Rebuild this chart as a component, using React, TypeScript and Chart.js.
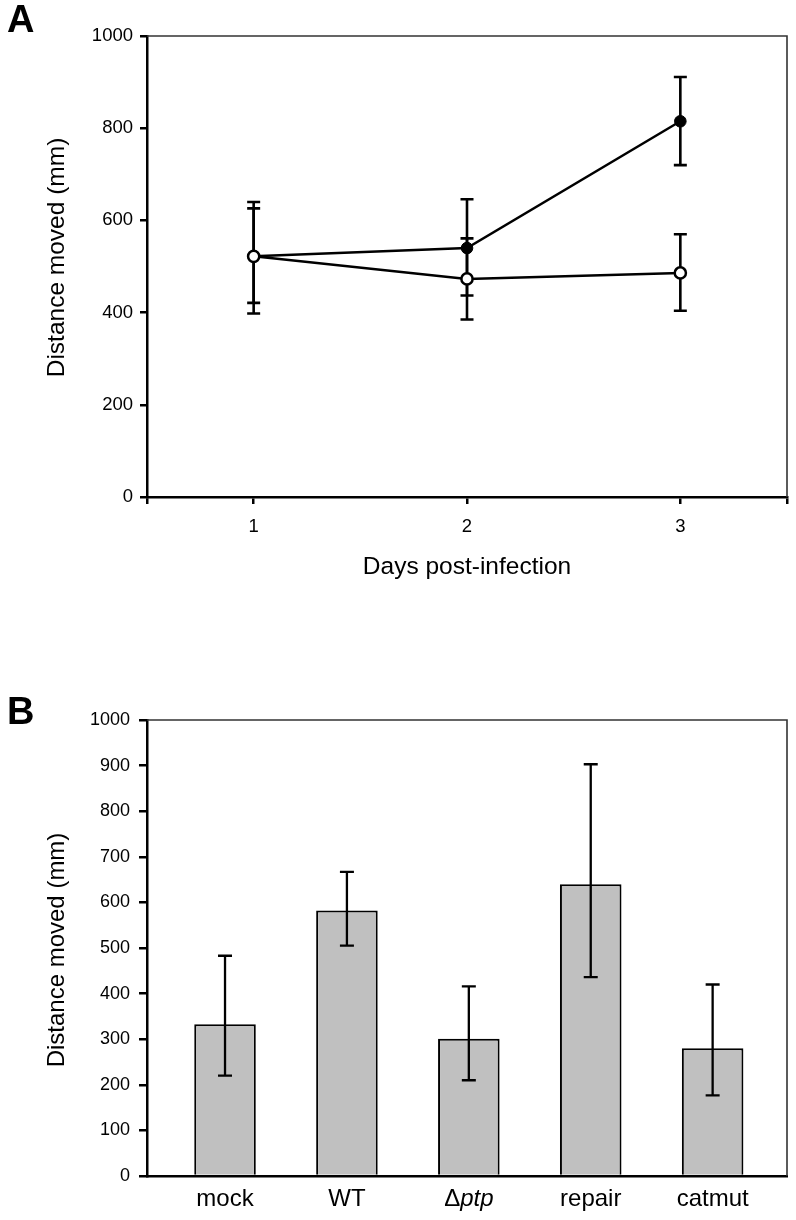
import React, { useEffect, useRef } from 'react';
import { Chart, registerables } from 'chart.js';

Chart.register(...registerables);

const FONT = '"Liberation Sans", Arial, Helvetica, sans-serif';

// ---- Panel A data ----
const DAYS = [1, 2, 3];
const DAY_TICKS = [0.5, 1, 2, 3, 3.5];
const A_Y_TICKS = [0, 200, 400, 600, 800, 1000];
const INFECTED_MEAN = [522, 540, 815];
const INFECTED_UPPER = [640, 646, 911];
const INFECTED_LOWER = [398, 437, 720];
const MOCK_MEAN = [522, 473, 486];
const MOCK_UPPER = [626, 561, 570];
const MOCK_LOWER = [421, 385, 404];

// ---- Panel B data ----
const GROUPS = ['mock', 'WT', 'Δptp', 'repair', 'catmut'];
const GROUP_MEAN = [333, 582, 301, 640, 280];
const GROUP_UPPER = [483, 667, 416, 903, 420];
const GROUP_LOWER = [220, 505, 210, 436, 177];
const B_Y_TICKS = [0, 100, 200, 300, 400, 500, 600, 700, 800, 900, 1000];

const Y_TITLE = 'Distance moved (mm)';
const X_TITLE_A = 'Days post-infection';

const framePlugin = {
  id: 'frame',
  beforeDatasetsDraw(chart: any) {
    const { ctx, chartArea } = chart;
    const { left, right, top, bottom } = chartArea;
    ctx.save();
    ctx.strokeStyle = '#333';
    ctx.lineWidth = 1.6;
    ctx.beginPath();
    ctx.moveTo(left, top);
    ctx.lineTo(right, top);
    ctx.lineTo(right, bottom);
    ctx.stroke();
    ctx.restore();
  },
};

function makeYTitle(id: string, text: string, size: number, centerX: number, shiftY: number) {
  return {
    id,
    afterDraw(chart: any) {
      const { ctx, chartArea } = chart;
      const cy = (chartArea.top + chartArea.bottom) / 2 + shiftY;
      ctx.save();
      ctx.translate(centerX, cy);
      ctx.rotate(-Math.PI / 2);
      ctx.font = `${size}px ${FONT}`;
      ctx.fillStyle = '#000';
      ctx.textAlign = 'center';
      ctx.textBaseline = 'middle';
      ctx.fillText(text, 0, 0);
      ctx.restore();
    },
  };
}

function makeErrorBars(
  id: string,
  hook: 'beforeDatasetsDraw' | 'afterDatasetsDraw',
  xs: number[],
  sets: { upper: number[]; lower: number[] }[],
  capHalf: number,
  lineWidth: number
) {
  return {
    id,
    [hook](chart: any) {
      const { ctx, scales } = chart;
      const x = scales.x;
      const y = scales.y;
      ctx.save();
      ctx.strokeStyle = '#000';
      ctx.lineWidth = lineWidth;
      ctx.lineCap = 'butt';
      sets.forEach((s) => {
        xs.forEach((xv, i) => {
          const px = x.getPixelForValue(xv);
          const pu = y.getPixelForValue(s.upper[i]);
          const pl = y.getPixelForValue(s.lower[i]);
          ctx.beginPath();
          ctx.moveTo(px, pu);
          ctx.lineTo(px, pl);
          ctx.moveTo(px - capHalf, pu);
          ctx.lineTo(px + capHalf, pu);
          ctx.moveTo(px - capHalf, pl);
          ctx.lineTo(px + capHalf, pl);
          ctx.stroke();
        });
      });
      ctx.restore();
    },
  };
}

const groupLabelsPlugin = {
  id: 'groupLabels',
  afterDraw(chart: any) {
    const { ctx, scales } = chart;
    const x = scales.x;
    const yPos = x.top + 23;
    const size = 24;
    const normal = `${size}px ${FONT}`;
    const italic = `italic ${size}px ${FONT}`;
    ctx.save();
    ctx.fillStyle = '#000';
    ctx.textBaseline = 'middle';
    GROUPS.forEach((g, i) => {
      const px = x.getPixelForValue(i);
      if (g.startsWith('Δ')) {
        const a = 'Δ';
        const b = g.slice(1);
        ctx.font = normal;
        const wa = ctx.measureText(a).width;
        ctx.font = italic;
        const wb = ctx.measureText(b).width;
        const start = px - (wa + wb) / 2;
        ctx.textAlign = 'left';
        ctx.font = normal;
        ctx.fillText(a, start, yPos);
        ctx.font = italic;
        ctx.fillText(b, start + wa, yPos);
      } else {
        ctx.font = normal;
        ctx.textAlign = 'center';
        ctx.fillText(g, px, yPos);
      }
    });
    ctx.restore();
  },
};

export default function App() {
  const refA = useRef<HTMLCanvasElement | null>(null);
  const refB = useRef<HTMLCanvasElement | null>(null);

  useEffect(() => {
    if (!refA.current || !refB.current) return;

    const axisGrid = (len: number) => ({
      drawOnChartArea: false,
      drawTicks: true,
      tickLength: len,
      color: '#000',
      lineWidth: 2.5,
      offset: false,
    });
    const axisBorder = { display: true, color: '#000', width: 2.5 };
    const plain = (v: any) => String(v);

    const chartA = new Chart(refA.current, {
      type: 'line',
      data: {
        datasets: [
          {
            label: 'Infected',
            data: DAYS.map((d, i) => ({ x: d, y: INFECTED_MEAN[i] })),
            borderColor: '#000',
            borderWidth: 2.5,
            pointRadius: 5.8,
            pointBackgroundColor: '#000',
            pointBorderColor: '#000',
            pointBorderWidth: 1,
            tension: 0,
            fill: false,
            order: 2,
          },
          {
            label: 'Mock',
            data: DAYS.map((d, i) => ({ x: d, y: MOCK_MEAN[i] })),
            borderColor: '#000',
            borderWidth: 2.5,
            pointRadius: 5.6,
            pointBackgroundColor: '#fff',
            pointBorderColor: '#000',
            pointBorderWidth: 2.5,
            tension: 0,
            fill: false,
            order: 1,
          },
        ],
      } as any,
      options: {
        responsive: false,
        animation: false,
        events: [],
        layout: { padding: { top: 36, right: 9, bottom: 0, left: 0 }, autoPadding: false } as any,
        plugins: { legend: { display: false }, tooltip: { enabled: false } },
        scales: {
          x: {
            type: 'linear',
            min: 0.5,
            max: 3.5,
            offset: false,
            afterBuildTicks: (s: any) => {
              s.ticks = DAY_TICKS.map((v) => ({ value: v }));
            },
            afterFit: (s: any) => {
              s.height = 113;
              s.paddingLeft = 0;
              s.paddingRight = 0;
            },
            grid: axisGrid(7),
            border: axisBorder,
            ticks: {
              autoSkip: false,
              maxRotation: 0,
              padding: 12,
              color: '#000',
              font: { family: FONT, size: 18.5 },
              callback: (v: any) => (Number.isInteger(v) ? String(v) : ''),
            },
            title: {
              display: true,
              text: X_TITLE_A,
              color: '#000',
              font: { family: FONT, size: 24.5 },
              padding: { top: 0, bottom: 28 },
            },
          },
          y: {
            type: 'linear',
            min: 0,
            max: 1000,
            afterBuildTicks: (s: any) => {
              s.ticks = A_Y_TICKS.map((v) => ({ value: v }));
            },
            afterFit: (s: any) => {
              s.width = 147;
            },
            grid: axisGrid(7),
            border: axisBorder,
            ticks: {
              padding: 7,
              color: '#000',
              font: { family: FONT, size: 18.5 },
              callback: plain,
            },
            title: { display: false },
          },
        },
      } as any,
      plugins: [
        framePlugin,
        makeErrorBars(
          'errA',
          'beforeDatasetsDraw',
          DAYS,
          [
            { upper: INFECTED_UPPER, lower: INFECTED_LOWER },
            { upper: MOCK_UPPER, lower: MOCK_LOWER },
          ],
          6.5,
          2.6
        ),
        makeYTitle('titleA', Y_TITLE, 24.5, 57, -9),
      ],
    });

    const chartB = new Chart(refB.current, {
      type: 'bar',
      data: {
        datasets: [
          {
            label: Y_TITLE,
            data: GROUPS.map((_, i) => ({ x: i, y: GROUP_MEAN[i] })),
            backgroundColor: '#c0c0c0',
            borderColor: '#000',
            borderWidth: 2,
            barPercentage: 0.505,
            categoryPercentage: 1,
          },
        ],
      } as any,
      options: {
        responsive: false,
        animation: false,
        events: [],
        layout: { padding: { top: 100, right: 9, bottom: 0, left: 0 }, autoPadding: false } as any,
        plugins: { legend: { display: false }, tooltip: { enabled: false } },
        scales: {
          x: {
            type: 'linear',
            min: -0.64,
            max: 4.61,
            offset: false,
            afterBuildTicks: (s: any) => {
              s.ticks = GROUPS.map((_, i) => ({ value: i }));
            },
            afterFit: (s: any) => {
              s.height = 44;
              s.paddingLeft = 0;
              s.paddingRight = 0;
            },
            grid: { display: true, drawOnChartArea: false, drawTicks: false, offset: false },
            border: axisBorder,
            ticks: { display: false },
          },
          y: {
            type: 'linear',
            min: 0,
            max: 1000,
            afterBuildTicks: (s: any) => {
              s.ticks = B_Y_TICKS.map((v) => ({ value: v }));
            },
            afterFit: (s: any) => {
              s.width = 147;
            },
            grid: axisGrid(8),
            border: axisBorder,
            ticks: {
              padding: 9,
              color: '#000',
              font: { family: FONT, size: 18 },
              callback: plain,
            },
            title: { display: false },
          },
        },
      } as any,
      plugins: [
        framePlugin,
        makeErrorBars(
          'errB',
          'afterDatasetsDraw',
          GROUPS.map((_, i) => i),
          [{ upper: GROUP_UPPER, lower: GROUP_LOWER }],
          7,
          2.3
        ),
        groupLabelsPlugin,
        makeYTitle('titleB', Y_TITLE, 24, 57, 2),
      ],
    });

    return () => {
      chartA.destroy();
      chartB.destroy();
    };
  }, []);

  const panelLabel: React.CSSProperties = {
    position: 'absolute',
    left: 7,
    font: `bold 38px ${FONT}`,
    lineHeight: 1,
    color: '#000',
  };

  return (
    <div style={{ position: 'absolute', left: 0, top: 0, width: 796, height: 1220, background: '#fff' }}>
      <canvas ref={refA} width={796} height={610} style={{ position: 'absolute', left: 0, top: 0 }} />
      <canvas ref={refB} width={796} height={600} style={{ position: 'absolute', left: 0, top: 620 }} />
      <div style={{ ...panelLabel, top: 0 }}>A</div>
      <div style={{ ...panelLabel, top: 692 }}>B</div>
    </div>
  );
}
